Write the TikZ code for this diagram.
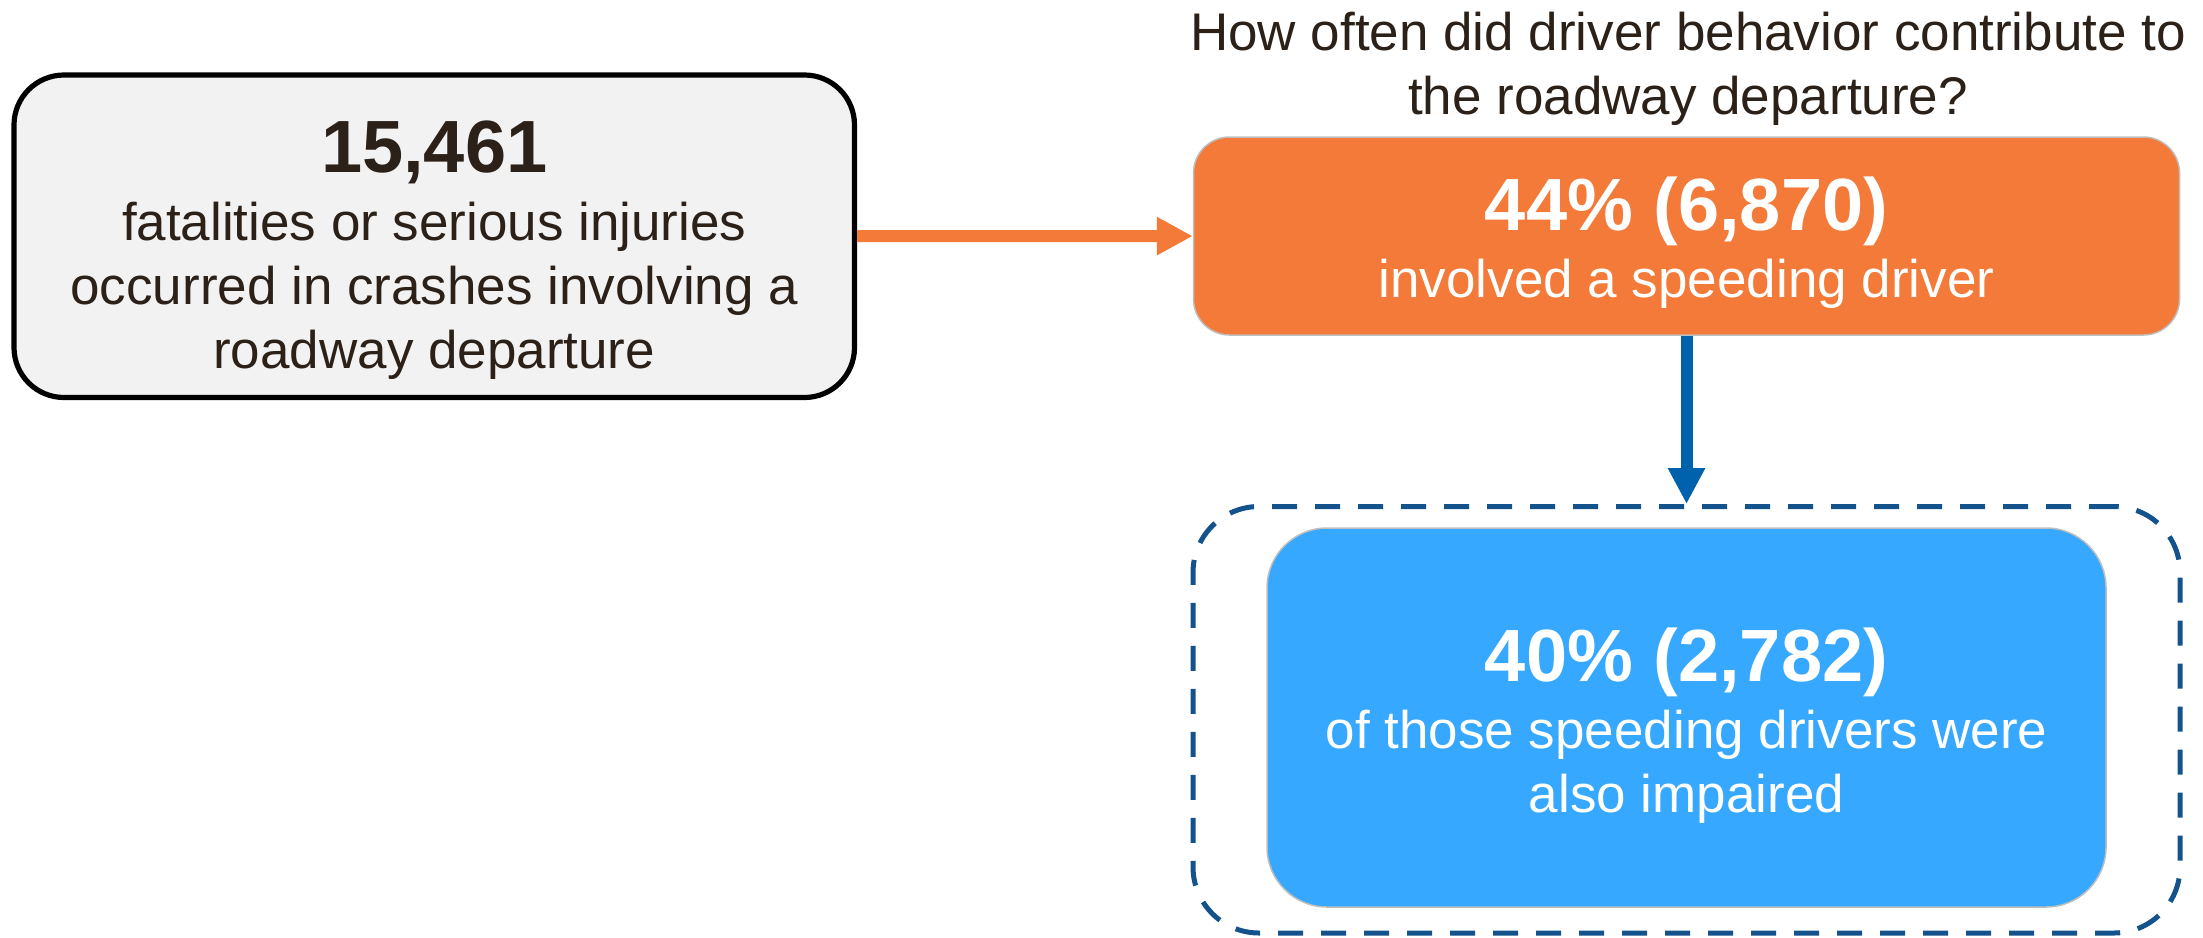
\documentclass[tikz,border=0pt]{standalone}
\usepackage{fontspec}
\setmainfont{Liberation Sans}
\usepackage{xcolor}
\usepackage{tikz}
\usetikzlibrary{positioning,arrows.meta}

\definecolor{darktext}{RGB}{43,33,24}
\definecolor{boxgray}{RGB}{242,242,242}
\definecolor{speedorange}{RGB}{243,122,56}
\definecolor{impairblue}{RGB}{54,168,255}
\definecolor{arrowblue}{RGB}{0,98,173}
\definecolor{dashblue}{RGB}{20,82,140}
\definecolor{edgegray}{RGB}{190,190,190}

\begin{document}
\begin{tikzpicture}[x=0.5pt, y=-0.5pt,
    total/.style={rectangle, draw=black, line width=2.6pt, fill=boxgray, rounded corners=25pt, minimum width=420.25pt, minimum height=161.25pt},
    speed/.style={rectangle, draw=edgegray, line width=0.75pt, fill=speedorange, rounded corners=18pt, minimum width=493pt, minimum height=99pt},
    impair/.style={rectangle, draw=edgegray, line width=0.75pt, fill=impairblue, rounded corners=30pt, minimum width=419.5pt, minimum height=189.5pt},
    group/.style={rectangle, draw=dashblue, line width=2.5pt, dash pattern=on 12.5pt off 9pt, rounded corners=33pt, minimum width=493.5pt, minimum height=213.25pt},
    boxtext/.style={align=center, inner sep=0pt, anchor=north, font=\fontsize{26.5}{32}\selectfont},
    orangearrow/.style={-{Triangle[length=18pt, width=18pt]}, line width=6pt, speedorange},
    bluearrow/.style={-{Triangle[length=18pt, width=17.5pt]}, line width=6pt, arrowblue}
]
\useasboundingbox (0,0) rectangle (2203,937);

% Title
\node[boxtext, text=darktext] (question) at (1688, 12) {How often did driver behavior contribute to\\ the roadway departure?};

% Boxes
\node[total] (total) at (434.25, 236.25) {};
\node[speed] (speed) at (1686.5, 236) {};
\node[group] (group) at (1686.5, 719.75) {};
\node[impair] (impair) at (1686.5, 717.5) {};

% Texts in the boxes
\node[boxtext, text=darktext] (totaltext) at (434.25, 120) {{\fontsize{37}{44}\selectfont\bfseries 15,461}\\[2pt] fatalities or serious injuries\\ occurred in crashes involving a\\ roadway departure};
\node[boxtext, text=white] (speedtext) at (1686.5, 176) {{\fontsize{37}{44}\selectfont\bfseries 44\% (6,870)}\\[1.5pt] involved a speeding driver};
\node[boxtext, text=white] (impairtext) at (1686.5, 627) {{\fontsize{37}{44}\selectfont\bfseries 40\% (2,782)}\\[1.5pt] of those speeding drivers were\\ also impaired};

% Arrows
\draw[orangearrow] (total) -- (speed);
\draw[bluearrow] (speed.south) -- (group.north);

\end{tikzpicture}
\end{document}
